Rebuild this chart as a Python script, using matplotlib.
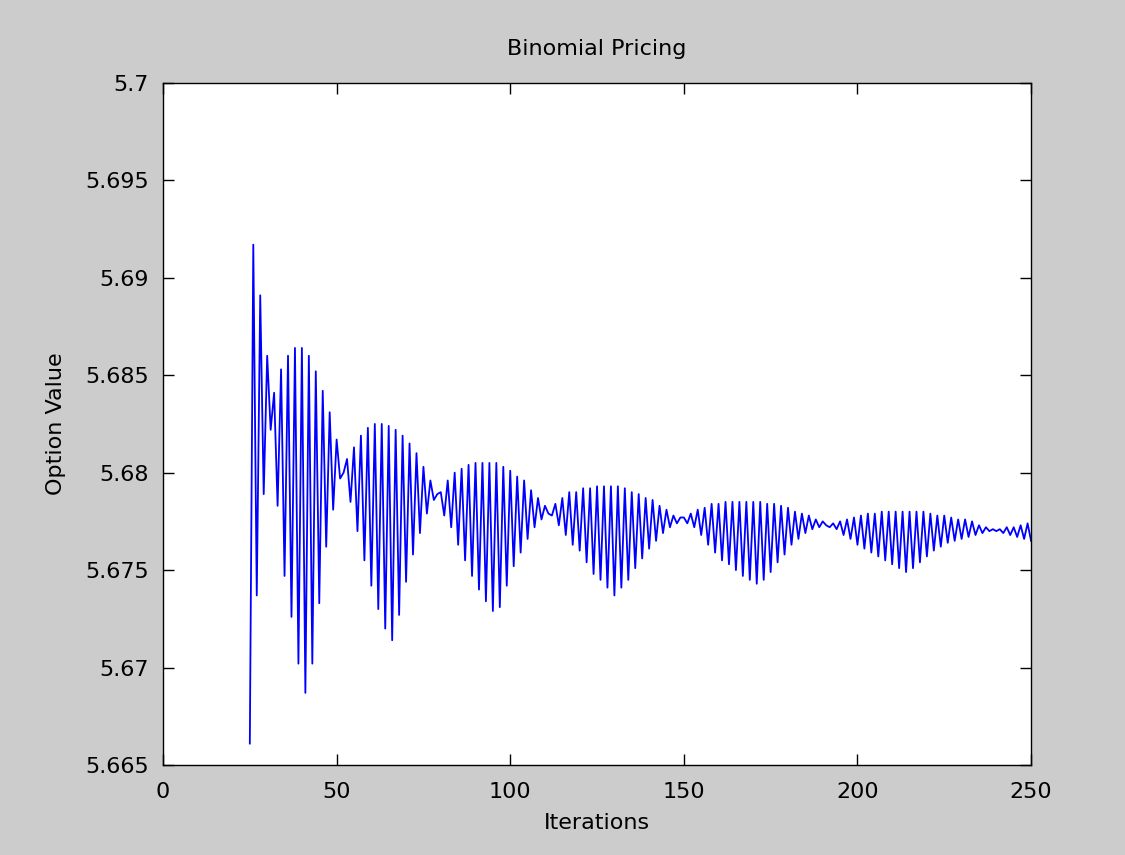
import matplotlib
matplotlib.use("Agg")
import matplotlib.pyplot as plt
import numpy as np

# ---- data ----
first_iteration = 25
option_value = [
    5.6661, 5.6917, 5.6737, 5.6891, 5.6789, 5.6860, 5.6822, 5.6841, 5.6783, 5.6853,  # 25-34
    5.6747, 5.6860, 5.6726, 5.6864, 5.6702, 5.6864, 5.6687, 5.6860, 5.6702, 5.6852,  # 35-44
    5.6733, 5.6842, 5.6762, 5.6831, 5.6781, 5.6817, 5.6797, 5.6800, 5.6807, 5.6785,  # 45-54
    5.6813, 5.6770, 5.6819, 5.6755, 5.6823, 5.6742, 5.6825, 5.6730, 5.6825, 5.6720,  # 55-64
    5.6824, 5.6714, 5.6822, 5.6727, 5.6819, 5.6744, 5.6815, 5.6758, 5.6810, 5.6769,  # 65-74
    5.6803, 5.6779, 5.6796, 5.6786, 5.6789, 5.6790, 5.6778, 5.6796, 5.6772, 5.6800,  # 75-84
    5.6763, 5.6802, 5.6755, 5.6804, 5.6747, 5.6805, 5.6740, 5.6805, 5.6734, 5.6805,  # 85-94
    5.6729, 5.6805, 5.6731, 5.6803, 5.6742, 5.6801, 5.6752, 5.6798, 5.6759, 5.6796,  # 95-104
    5.6766, 5.6791, 5.6772, 5.6787, 5.6776, 5.6783, 5.6779, 5.6778, 5.6784, 5.6773,  # 105-114
    5.6787, 5.6768, 5.6790, 5.6763, 5.6790, 5.6760, 5.6792, 5.6754, 5.6792, 5.6748,  # 115-124
    5.6793, 5.6745, 5.6793, 5.6741, 5.6793, 5.6737, 5.6793, 5.6741, 5.6792, 5.6745,  # 125-134
    5.6790, 5.6751, 5.6789, 5.6756, 5.6787, 5.6761, 5.6786, 5.6765, 5.6783, 5.6769,  # 135-144
    5.6781, 5.6772, 5.6778, 5.6774, 5.6777, 5.6777, 5.6774, 5.6779, 5.6772, 5.6781,  # 145-154
    5.6768, 5.6782, 5.6763, 5.6784, 5.6759, 5.6784, 5.6755, 5.6785, 5.6753, 5.6785,  # 155-164
    5.6750, 5.6785, 5.6747, 5.6785, 5.6745, 5.6785, 5.6743, 5.6785, 5.6745, 5.6784,  # 165-174
    5.6749, 5.6784, 5.6754, 5.6783, 5.6758, 5.6782, 5.6763, 5.6780, 5.6766, 5.6779,  # 175-184
    5.6769, 5.6778, 5.6771, 5.6776, 5.6772, 5.6775, 5.6773, 5.6772, 5.6774, 5.6771,  # 185-194
    5.6775, 5.6768, 5.6776, 5.6766, 5.6777, 5.6763, 5.6778, 5.6761, 5.6779, 5.6759,  # 195-204
    5.6779, 5.6757, 5.6780, 5.6755, 5.6780, 5.6753, 5.6780, 5.6751, 5.6780, 5.6749,  # 205-214
    5.6780, 5.6751, 5.6780, 5.6754, 5.6780, 5.6757, 5.6779, 5.6760, 5.6778, 5.6762,  # 215-224
    5.6778, 5.6764, 5.6777, 5.6765, 5.6776, 5.6766, 5.6776, 5.6767, 5.6775, 5.6768,  # 225-234
    5.6773, 5.6769, 5.6772, 5.6770, 5.6771, 5.6770, 5.6771, 5.6769, 5.6772, 5.6768,  # 235-244
    5.6772, 5.6767, 5.6773, 5.6766, 5.6774, 5.6765,                                  # 245-250
]
iterations = np.arange(first_iteration, first_iteration + len(option_value))

x_ticks = [0, 50, 100, 150, 200, 250]
y_ticks = [5.665, 5.67, 5.675, 5.68, 5.685, 5.69, 5.695, 5.7]
y_tick_labels = ["5.665", "5.67", "5.675", "5.68", "5.685", "5.69", "5.695", "5.7"]

title_text = "Binomial Pricing"
x_label = "Iterations"
y_label = "Option Value"

# ---- figure ----
plt.rcParams["font.family"] = ["DejaVu Sans"]
fig = plt.figure(figsize=(11.25, 8.55), dpi=100, facecolor="#cccccc")
ax = fig.add_axes([0.1449, 0.1053, 0.7716, 0.7977])
ax.set_facecolor("white")

ax.plot(iterations, option_value, color="#0000ff", linewidth=1.3)

ax.set_xlim(0, 250)
ax.set_ylim(5.665, 5.7)
ax.set_xticks(x_ticks)
ax.set_yticks(y_ticks)
ax.set_yticklabels(y_tick_labels)

ax.tick_params(direction="in", length=8, width=1, top=True, right=True,
               labelsize=16, colors="black")
ax.tick_params(axis="x", pad=12)
ax.tick_params(axis="y", pad=10)
for sp in ax.spines.values():
    sp.set_linewidth(1.0)
    sp.set_color("black")

ax.set_title(title_text, fontsize=16, pad=20)
ax.set_xlabel(x_label, fontsize=16, labelpad=8)
ax.set_ylabel(y_label, fontsize=16, labelpad=14)

fig.savefig("out.png", dpi=100, facecolor=fig.get_facecolor())
